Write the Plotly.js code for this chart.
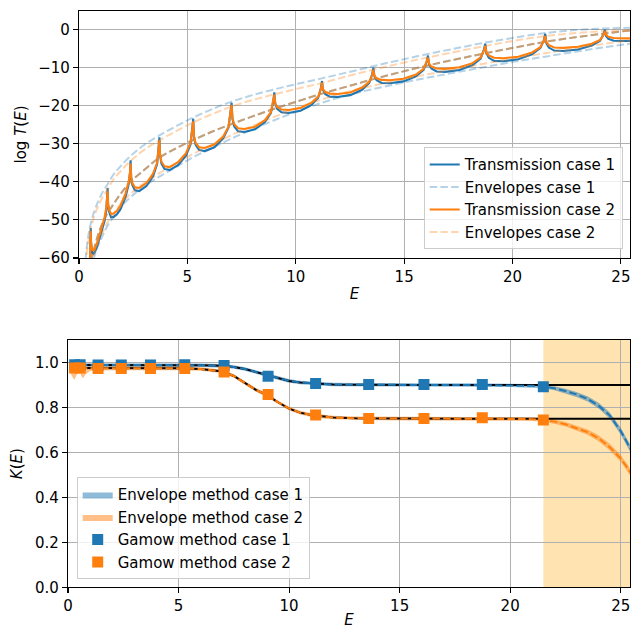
<!DOCTYPE html>
<html><head><meta charset="utf-8">
<script src="https://cdn.plot.ly/plotly-3.0.1.min.js"></script>
<style>html,body{margin:0;padding:0;background:#fff}#chart{width:644px;height:629px}</style>
</head><body><div id="chart"></div>
<script>
// ---------- Top panel: log T(E) ----------
const E_T1 = [0.50, 0.53, 0.54,
 0.555, 0.58, 0.62, 0.67, 0.75, 0.88, 1.03, 1.18, 1.26, 1.30, 1.32,
 1.341, 1.384, 1.479, 1.6, 1.75, 1.903, 2.147, 2.295, 2.354, 2.38,
 2.407, 2.46, 2.58, 2.779, 3.112, 3.417, 3.604, 3.677, 3.71,
 3.741, 3.804, 3.944, 4.178, 4.568, 4.927, 5.145, 5.231, 5.27,
 5.305, 5.376, 5.536, 5.801, 6.244, 6.651, 6.898, 6.996, 7.04,
 7.079, 7.158, 7.336, 7.631, 8.124, 8.577, 8.852, 8.961, 9.01,
 9.054, 9.142, 9.34, 9.67, 10.22, 10.726, 11.034, 11.155, 11.21,
 11.257, 11.352, 11.566, 11.921, 12.514, 13.059, 13.39, 13.521, 13.58,
 13.63, 13.731, 13.958, 14.336, 14.966, 15.546, 15.898, 16.037, 16.1,
 16.153, 16.258, 16.496, 16.892, 17.552, 18.159, 18.529, 18.674, 18.74,
 18.795, 18.906, 19.156, 19.571, 20.264, 20.901, 21.288, 21.441, 21.51,
 21.565, 21.675, 21.923, 22.335, 23.023, 23.655, 24.04, 24.191, 24.26,
 24.315, 24.42, 24.67, 25.1, 25.45];
const LOGT1 = [-66, -56.0, -52.1,
 -55.5, -57.6, -58.7, -58.9, -58.2, -56.2, -53.4, -50.2, -47.5, -44.6, -41.6,
 -45.9, -47.8, -49.3, -49.2, -48.5, -47.3, -44.0, -40.5, -37.5, -34.3,
 -38.8, -40.8, -42.2, -42.4, -41.1, -38.5, -35.3, -31.3, -28.3,
 -33.0, -35.2, -36.6, -36.9, -35.6, -33.2, -30.2, -26.4, -23.4,
 -28.1, -30.2, -31.6, -31.9, -30.9, -28.6, -25.7, -22.0, -19.2,
 -23.4, -25.4, -26.7, -26.9, -26.2, -24.3, -21.9, -18.9, -16.5,
 -19.5, -20.8, -21.7, -21.9, -21.3, -19.8, -17.9, -15.5, -13.5,
 -15.8, -16.9, -17.6, -17.7, -17.2, -15.8, -14.0, -11.8, -10.0,
 -12.3, -13.3, -14.0, -14.1, -13.6, -12.3, -10.6, -8.5, -6.8,
 -9.2, -10.2, -11.0, -11.1, -10.6, -9.3, -7.6, -5.4, -3.7,
 -6.2, -7.4, -8.2, -8.3, -7.8, -6.5, -4.8, -2.8, -1.1,
 -3.6, -4.7, -5.5, -5.6, -5.2, -4.2, -2.9, -1.3, 0.0,
 -1.65, -2.4, -2.9, -3.0, -3.0];
const E_T2 = [0.48, 0.515, 0.54,
 0.555, 0.58, 0.62, 0.67, 0.75, 0.88, 1.03, 1.18, 1.26, 1.30, 1.32,
 1.341, 1.384, 1.479, 1.6, 1.75, 1.903, 2.147, 2.295, 2.354, 2.38,
 2.407, 2.46, 2.58, 2.779, 3.112, 3.417, 3.604, 3.677, 3.71,
 3.741, 3.804, 3.944, 4.178, 4.568, 4.927, 5.145, 5.231, 5.27,
 5.305, 5.376, 5.536, 5.801, 6.244, 6.651, 6.898, 6.996, 7.04,
 7.079, 7.158, 7.336, 7.631, 8.124, 8.577, 8.852, 8.961, 9.01,
 9.054, 9.142, 9.34, 9.67, 10.22, 10.726, 11.034, 11.155, 11.21,
 11.257, 11.352, 11.566, 11.921, 12.514, 13.059, 13.39, 13.521, 13.58,
 13.63, 13.731, 13.958, 14.336, 14.966, 15.546, 15.898, 16.037, 16.1,
 16.153, 16.258, 16.496, 16.892, 17.552, 18.159, 18.529, 18.674, 18.74,
 18.795, 18.906, 19.156, 19.571, 20.264, 20.901, 21.288, 21.441, 21.51,
 21.565, 21.675, 21.923, 22.335, 23.023, 23.655, 24.04, 24.191, 24.26,
 24.315, 24.42, 24.67, 25.1, 25.45];
const LOGT2 = [-66, -57.0, -53.0,
 -56.2, -57.3, -57.9, -58.0, -57.3, -55.2, -52.4, -49.3, -46.7, -44.8, -42.5,
 -45.6, -47.3, -48.4, -48.3, -47.6, -46.4, -43.0, -39.8, -37.6, -35.2,
 -38.7, -40.3, -41.4, -41.6, -40.3, -37.8, -35.0, -31.7, -29.1,
 -33.0, -34.7, -35.9, -36.1, -34.8, -32.5, -29.8, -26.6, -24.1,
 -28.0, -29.7, -30.9, -31.1, -30.2, -28.1, -25.5, -22.3, -19.8,
 -23.3, -24.8, -25.9, -26.1, -25.5, -23.8, -21.7, -19.1, -17.1,
 -19.3, -20.3, -21.0, -21.1, -20.6, -19.2, -17.6, -15.7, -14.0,
 -15.6, -16.3, -16.8, -16.9, -16.5, -15.2, -13.7, -12.0, -10.6,
 -12.1, -12.8, -13.2, -13.3, -12.9, -11.8, -10.3, -8.6, -7.4,
 -8.9, -9.7, -10.2, -10.3, -9.9, -8.8, -7.3, -5.6, -4.3,
 -6.0, -6.8, -7.4, -7.5, -7.1, -6.0, -4.6, -2.9, -1.7,
 -3.3, -4.1, -4.7, -4.8, -4.5, -3.7, -2.7, -1.5, -0.5,
 -1.3, -1.9, -2.2, -2.3, -2.3];

const E_ENV = [0.3, 0.42, 0.54, 0.7, 0.9, 1.1, 1.32, 1.6, 1.9, 2.38, 3.0, 3.71, 4.5, 5.27, 6.1, 7.04, 8.0, 9.01, 10.1, 11.21, 12.4, 13.58, 14.8, 16.1, 17.4, 18.74, 20.1, 21.51, 22.9, 24.26, 25.45];
const ENV1_UPPER = [-60.5, -54.5, -51.0, -47.8, -44.9, -42.6, -40.6, -38.0, -36.0, -33.2, -30.3, -27.8, -25.3, -23.1, -21.0, -18.9, -17.2, -15.7, -14.2, -12.8, -11.2, -9.6, -8.0, -6.4, -4.9, -3.4, -2.1, -0.9, -0.1, 0.3, 0.5];
const ENV1_LOWER = [-80, -72, -64, -59.8, -56.5, -54.0, -51.5, -49.2, -46.8, -44.0, -41.2, -38.6, -36.0, -33.5, -31.2, -28.6, -26.2, -23.8, -21.4, -19.2, -17.2, -15.6, -14.1, -12.6, -11.2, -9.8, -8.4, -7.1, -5.8, -4.6, -3.7];
const ENV2_UPPER = [-62, -56, -52.4, -49.1, -46.2, -43.9, -41.9, -39.3, -37.3, -34.5, -31.6, -29.1, -26.6, -24.4, -22.3, -20.2, -18.5, -17.0, -15.5, -14.0, -12.2, -10.5, -8.9, -7.3, -5.8, -4.3, -2.9, -1.7, -0.9, -0.4, -0.2];
const ENV2_LOWER = [-79, -71, -63, -58.9, -55.6, -53.1, -50.6, -48.3, -45.9, -43.1, -40.3, -37.7, -35.1, -32.6, -30.3, -27.7, -25.3, -22.9, -20.5, -18.3, -16.3, -14.7, -13.2, -11.7, -10.3, -8.9, -7.5, -6.2, -4.9, -3.7, -2.8];
const ENV_MID = [-72, -64.5, -61, -57.5, -53.6, -50.6, -48.2, -45.8, -43.3, -40.0, -36.9, -33.6, -31.1, -29.0, -26.9, -24.8, -22.8, -20.8, -18.8, -16.8, -14.9, -13.0, -11.2, -9.4, -7.8, -6.2, -4.7, -3.2, -2.0, -1.0, -0.2];

// ---------- Bottom panel: K(E) ----------
const E_K = [0.05,0.15,0.28,0.4,0.5,0.6,0.68,0.8,1.0,1.3, 1.6,2,3,4,5,6,7,7.5,8,8.5, 9,9.5,10,10.5,11,11.5,12,13,14,16, 18,20,21,21.5,22,22.5,23,23.5,24,24.5, 25,25.45];
const K1_EXACT = [0.989,0.989,0.989,0.989,0.989,0.989,0.989,0.989,0.989,0.989, 0.989,0.989,0.989,0.989,0.989,0.988,0.985,0.980,0.971,0.958, 0.943,0.929,0.918,0.911,0.907,0.904,0.902,0.901,0.900,0.900, 0.900,0.900,0.900,0.900,0.900,0.900,0.900,0.900,0.900,0.900, 0.900,0.900];
const K1_ENV = [0.989,0.989,0.989,0.989,0.989,0.989,0.989,0.989,0.989,0.989, 0.989,0.989,0.989,0.989,0.989,0.988,0.985,0.980,0.971,0.958, 0.943,0.929,0.918,0.911,0.907,0.904,0.902,0.901,0.900,0.900, 0.900,0.899,0.896,0.893,0.885,0.873,0.858,0.838,0.808,0.765, 0.695,0.615];
const K1_BAND_UP = [0.997,0.997,0.997,0.997,0.997,0.997,0.997,0.997,0.997,0.997, 0.997,0.997,0.997,0.997,0.997,0.996,0.993,0.988,0.979,0.966, 0.951,0.937,0.926,0.919,0.915,0.912,0.910,0.909,0.908,0.908, 0.908,0.907,0.904,0.901,0.894,0.883,0.869,0.850,0.821,0.779, 0.710,0.631];
const K1_BAND_LO = [0.981,0.981,0.981,0.981,0.981,0.981,0.981,0.981,0.981,0.981, 0.981,0.981,0.981,0.981,0.981,0.980,0.977,0.972,0.963,0.950, 0.935,0.921,0.910,0.903,0.899,0.896,0.894,0.893,0.892,0.892, 0.892,0.891,0.888,0.885,0.876,0.863,0.847,0.826,0.795,0.751, 0.680,0.599];
const K2_EXACT = [0.975,0.975,0.975,0.975,0.975,0.975,0.975,0.975,0.975,0.975, 0.975,0.975,0.975,0.975,0.974,0.971,0.960,0.940,0.908,0.878, 0.855,0.823,0.795,0.777,0.766,0.759,0.755,0.752,0.751,0.750, 0.750,0.750,0.750,0.750,0.750,0.750,0.750,0.750,0.750,0.750, 0.750,0.750];
const K2_ENV = [0.975,0.975,0.975,0.975,0.975,0.975,0.975,0.975,0.975,0.975, 0.975,0.975,0.975,0.975,0.974,0.971,0.960,0.940,0.908,0.878, 0.855,0.823,0.795,0.777,0.766,0.759,0.755,0.752,0.751,0.750, 0.750,0.749,0.748,0.744,0.737,0.725,0.709,0.690,0.663,0.624, 0.573,0.510];
const K2_BAND_UP = [0.982,0.982,0.982,0.982,0.982,0.982,0.982,0.982,0.981,0.980, 0.980,0.980,0.983,0.983,0.982,0.979,0.968,0.948,0.916,0.886, 0.863,0.831,0.803,0.785,0.774,0.767,0.763,0.760,0.759,0.758, 0.758,0.757,0.756,0.752,0.746,0.735,0.720,0.702,0.676,0.638, 0.588,0.526];
const K2_BAND_LO = [0.962,0.945,0.922,0.948,0.966,0.940,0.930,0.948,0.962,0.965, 0.964,0.966,0.967,0.967,0.966,0.963,0.952,0.932,0.900,0.870, 0.847,0.815,0.787,0.769,0.758,0.751,0.747,0.744,0.743,0.742, 0.742,0.741,0.740,0.736,0.728,0.715,0.698,0.678,0.650,0.610, 0.558,0.494];

const E_GAMOW = [0.3, 0.55, 1.36, 2.41, 3.73, 5.28, 7.06, 9.05, 11.2, 13.6, 16.1, 18.74, 21.5];
const K1_GAMOW = [0.990, 0.990, 0.989, 0.989, 0.989, 0.990, 0.987, 0.939, 0.907, 0.902, 0.902, 0.902, 0.892];
const K2_GAMOW = [0.975, 0.975, 0.973, 0.973, 0.973, 0.973, 0.958, 0.858, 0.766, 0.751, 0.751, 0.754, 0.744];
const SHADE_START = 21.5;

const X_TICKS = [0, 5, 10, 15, 20, 25];
const Y_TICKS_TOP = [-60, -50, -40, -30, -20, -10, 0];
const Y_TICKS_BOTTOM = [0, 0.2, 0.4, 0.6, 0.8, 1.0];
const XMAX = 25.42;

// ---------- styles ----------
const C0 = '#1f77b4', C1 = '#ff7f0e';
const C0_LIGHT = 'rgba(31,119,180,0.33)', C1_LIGHT = 'rgba(255,127,14,0.33)';
const C0_HALF = 'rgba(31,119,180,0.5)', C1_HALF = 'rgba(255,127,14,0.5)';
const DASH = '7.5px,3.2px';
const FONT = 'DejaVu Sans, sans-serif';
const FS = 15;

function mkLine(x, y, color, width, dash, extra) {
  return Object.assign({type:'scatter', mode:'lines', x:x, y:y, line:{color:color, width:width, dash:dash||'solid'}, hoverinfo:'skip', showlegend:false}, extra||{});
}
function mkBand(x, up, lo, color, name) {
  return {type:'scatter', mode:'lines', x:x.concat(x.slice().reverse()), y:up.concat(lo.slice().reverse()),
    fill:'toself', fillcolor:color, line:{width:0, color:color}, name:name, legend:'legend2',
    xaxis:'x2', yaxis:'y2', hoverinfo:'skip'};
}
function envLine(y, color, extra) {
  return Object.assign({type:'scatter', mode:'lines', x:E_ENV, y:y, line:{color:color, width:2, dash:DASH, shape:'spline'},
    hoverinfo:'skip', showlegend:false, xaxis:'x', yaxis:'y'}, extra||{});
}

const TOPAX = {xaxis:'x', yaxis:'y'};
const BOTAX = {xaxis:'x2', yaxis:'y2'};
const traces = [
  mkLine(E_T1, LOGT1, C0, 2.1, 'solid', Object.assign({name:'Transmission case 1', showlegend:true, legend:'legend'}, TOPAX)),
  envLine(ENV1_UPPER, C0_LIGHT, {name:'Envelopes case 1', showlegend:true, legend:'legend'}),
  envLine(ENV1_LOWER, C0_LIGHT),
  envLine(ENV_MID, C0_HALF),
  mkLine(E_T2, LOGT2, C1, 2.1, 'solid', Object.assign({name:'Transmission case 2', showlegend:true, legend:'legend'}, TOPAX)),
  envLine(ENV2_UPPER, C1_LIGHT, {name:'Envelopes case 2', showlegend:true, legend:'legend'}),
  envLine(ENV2_LOWER, C1_LIGHT),
  envLine(ENV_MID, C1_HALF),

  mkBand(E_K, K1_BAND_UP, K1_BAND_LO, C0_HALF, 'Envelope method case 1'),
  mkBand(E_K, K2_BAND_UP, K2_BAND_LO, C1_HALF, 'Envelope method case 2'),
  mkLine(E_K, K1_EXACT, '#000', 2, 'solid', BOTAX),
  mkLine(E_K, K2_EXACT, '#000', 2, 'solid', BOTAX),
  mkLine(E_K, K1_ENV, C0, 2, DASH, BOTAX),
  mkLine(E_K, K2_ENV, C1, 2, DASH, BOTAX),
  {type:'scatter', mode:'markers', x:E_GAMOW, y:K1_GAMOW, name:'Gamow method case 1', legend:'legend2',
   marker:{symbol:'square', size:11, color:C0, line:{width:0}}, xaxis:'x2', yaxis:'y2', hoverinfo:'skip'},
  {type:'scatter', mode:'markers', x:E_GAMOW, y:K2_GAMOW, name:'Gamow method case 2', legend:'legend2',
   marker:{symbol:'square', size:11, color:C1, line:{width:0}}, xaxis:'x2', yaxis:'y2', hoverinfo:'skip'}
];

const axisBase = {
  showline:true, mirror:true, linecolor:'#000', linewidth:1.1,
  ticks:'outside', ticklen:5, tickwidth:1.1, tickcolor:'#000',
  showgrid:true, gridcolor:'#b0b0b0', gridwidth:1.1, zeroline:false,
  tickfont:{family:FONT, size:FS, color:'#000'}, automargin:false
};
const titleFont = {family:FONT, size:FS, color:'#000'};

const layout = {
  width:644, height:629, margin:{l:0, r:0, t:0, b:0},
  paper_bgcolor:'#fff', plot_bgcolor:'#fff',
  font:{family:FONT, size:FS, color:'#000'},
  xaxis: Object.assign({}, axisBase, {domain:[79/644, 630/644], range:[0, XMAX], tickmode:'array', tickvals:X_TICKS, anchor:'y',
    title:{text:'<i>E</i>', font:titleFont, standoff:3}}),
  yaxis: Object.assign({}, axisBase, {domain:[(629-258)/629, (629-11)/629], range:[-60, 4.9], tickmode:'array', tickvals:Y_TICKS_TOP, anchor:'x',
    title:{text:'log <i>T</i>(<i>E</i>)', font:titleFont, standoff:8}}),
  xaxis2: Object.assign({}, axisBase, {domain:[68/644, 630/644], range:[0, XMAX], tickmode:'array', tickvals:X_TICKS, anchor:'y2',
    title:{text:'<i>E</i>', font:titleFont, standoff:3}}),
  yaxis2: Object.assign({}, axisBase, {domain:[(629-587.3)/629, (629-340)/629], range:[0, 1.1], tickmode:'array', tickvals:Y_TICKS_BOTTOM, tickformat:'.1f', anchor:'x2',
    title:{text:'<i>K</i>(<i>E</i>)', font:titleFont, standoff:8}}),
  showlegend:true,
  legend:{x:622.7/644, xanchor:'right', y:(629-249.3)/629, yanchor:'bottom',
    bgcolor:'rgba(255,255,255,0.8)', bordercolor:'#cccccc', borderwidth:1,
    font:{family:FONT, size:FS, color:'#000'}, tracegroupgap:0},
  legend2:{x:76.7/644, xanchor:'left', y:(629-579.3)/629, yanchor:'bottom',
    bgcolor:'rgba(255,255,255,0.8)', bordercolor:'#cccccc', borderwidth:1,
    font:{family:FONT, size:FS, color:'#000'}, tracegroupgap:0},
  shapes:[{type:'rect', xref:'x2', yref:'y2 domain', x0:SHADE_START, x1:XMAX, y0:0, y1:1,
    fillcolor:'rgba(255,165,0,0.3)', line:{width:0}, layer:'below'}]
};

Plotly.newPlot('chart', traces, layout, {displayModeBar:false, staticPlot:true});
</script></body></html>
